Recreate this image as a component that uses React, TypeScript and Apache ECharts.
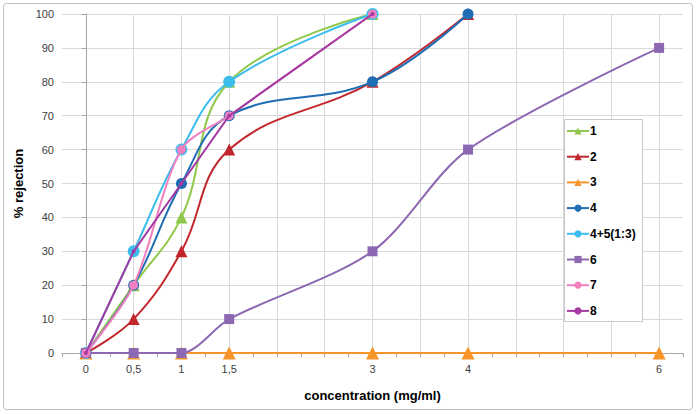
import React, { useEffect, useRef } from "react";
import * as echarts from "echarts";

const xTickValues = [0, 0.5, 1, 1.5, 3, 4, 6];
const xTickLabels = ["0", "0,5", "1", "1,5", "3", "4", "6"];

const conc = [0, 0.5, 1, 1.5, 3, 4, 6];
const s1 = [0, 20, 40, 80, 100, null, null];
const s2 = [0, 10, 30, 60, 80, 100, null];
const s3 = [0, 0, 0, 0, 0, 0, 0];
const s4 = [0, 20, 50, 70, 80, 100, null];
const s45 = [0, 30, 60, 80, 100, null, null];
const s6 = [0, 0, 0, 10, 30, 60, 90];
const s7 = [0, 20, 60, 70, 100, null, null];
const s8 = [0, 30, 50, 70, 100, null, null];

const seriesNames = ["1", "2", "3", "4", "4+5(1:3)", "6", "7", "8"];
const seriesValues = [s1, s2, s3, s4, s45, s6, s7, s8];
const colors = ["#8FC84A", "#C1272D", "#F7952A", "#1F6EB4", "#3DBDEB", "#8C68B3", "#F080C0", "#A33BA3"];
const symbols = ["triangle", "triangle", "triangle", "circle", "circle", "rect", "circle", "circle"];
const symbolSizes = [12, 12, 13, 11, 12, 10, 9, 4];
const smooths: (number | boolean)[] = [0.4, 0.4, false, 0.4, 0.4, 0.3, 0.3, false];

function toPairs(vals: (number | null)[]) {
  const out: [number, number][] = [];
  vals.forEach((v, i) => {
    if (v !== null) out.push([conc[i], v]);
  });
  return out;
}

export default function App() {
  const ref = useRef<HTMLDivElement>(null);
  useEffect(() => {
    document.body.style.margin = "0";
    const chart = echarts.init(ref.current!, null, { renderer: "svg" });
    const font = "'Liberation Sans', Arial, sans-serif";
    chart.setOption({
      animation: false,
      backgroundColor: "#ffffff",
      textStyle: { fontFamily: font },
      graphic: [
        {
          type: "rect",
          shape: { x: 3.5, y: 3.5, width: 689, height: 406, r: 3 },
          style: { fill: "none", stroke: "#BFBFBF", lineWidth: 1 },
          silent: true,
          z: -10,
        },
        {
          type: "rect",
          shape: { x: 564.5, y: 119.5, width: 78, height: 202 },
          style: { fill: "#ffffff", stroke: "#C8C8C8", lineWidth: 1 },
          z: 5,
        },
      ],
      grid: { left: 62, right: 14, top: 14, bottom: 61 },
      legend: {
        orient: "vertical",
        left: 566,
        top: 124,
        z: 10,
        data: seriesNames,
        itemWidth: 22,
        itemHeight: 9,
        itemGap: 11.7,
        padding: 0,
        textStyle: { fontFamily: font, fontSize: 12, fontWeight: "bold", color: "#000", lineHeight: 14, padding: [0, 0, 0, -4] },
      },
      xAxis: {
        type: "value",
        min: -0.25,
        max: 6.25,
        interval: 0.25,
        name: "concentration (mg/ml)",
        nameLocation: "middle",
        nameGap: 36,
        nameTextStyle: { fontFamily: font, fontSize: 13, fontWeight: "bold", color: "#000" },
        axisLine: { show: true, onZero: false, lineStyle: { color: "#A6A6A6", width: 1 } },
        axisTick: { show: true, length: 4, lineStyle: { color: "#A6A6A6" } },
        axisLabel: {
          margin: 10,
          fontSize: 11,
          color: "#404040",
          formatter: (v: number) => {
            const i = xTickValues.findIndex((t) => Math.abs(t - v) < 1e-6);
            return i >= 0 ? xTickLabels[i] : "";
          },
        },
        splitLine: { show: true, lineStyle: { color: ["rgba(0,0,0,0)", "#D9D9D9"], width: 1 } },
      },
      yAxis: {
        type: "value",
        min: 0,
        max: 100,
        interval: 10,
        name: "% rejection",
        nameLocation: "middle",
        nameGap: 34,
        nameTextStyle: { fontFamily: font, fontSize: 13, fontWeight: "bold", color: "#000" },
        axisLine: { show: true, lineStyle: { color: "#A6A6A6", width: 1 } },
        axisTick: { show: true, length: 4, lineStyle: { color: "#A6A6A6" } },
        axisLabel: { margin: 8, fontSize: 11, color: "#404040" },
        splitLine: { show: true, lineStyle: { color: "#D9D9D9", width: 1 } },
      },
      series: seriesNames.map((name, k) => ({
        name,
        type: "line",
        data: toPairs(seriesValues[k]),
        smooth: smooths[k],
        symbol: symbols[k],
        symbolSize: symbolSizes[k],
        showSymbol: true,
        lineStyle: { color: colors[k], width: 2 },
        itemStyle: { color: colors[k] },
        z: 2 + k,
      })),
    });
    return () => chart.dispose();
  }, []);
  return <div ref={ref} style={{ width: 697, height: 414 }} />;
}
